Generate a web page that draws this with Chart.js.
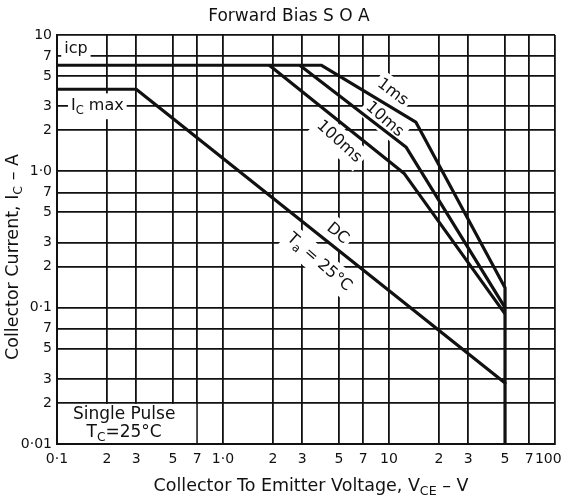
<!DOCTYPE html>
<html>
<head>
<meta charset="utf-8">
<script src="https://cdn.jsdelivr.net/npm/chart.js@4.4.1/dist/chart.umd.min.js"></script>
<style>
  html, body { margin: 0; padding: 0; background: #fff; }
  #wrap { width: 562px; height: 502px; }
</style>
</head>
<body>
<div id="wrap"><canvas id="soa" width="562" height="502"></canvas></div>
<script>
// =======================
// DATA
// =======================
const xTicks = [0.1, 0.2, 0.3, 0.5, 0.7, 1, 2, 3, 5, 7, 10, 20, 30, 50, 70, 100];
const xTickLabels = ["0·1", "2", "3", "5", "7", "1·0", "2", "3", "5", "7", "10", "2", "3", "5", "7", "100\u00a0\u00a0\u00a0"];
const yTicks = [0.01, 0.02, 0.03, 0.05, 0.07, 0.1, 0.2, 0.3, 0.5, 0.7, 1, 2, 3, 5, 7, 10];
const yTickLabels = ["0·01", "2", "3", "5", "7", "0·1", "2", "3", "5", "7", "1·0", "2", "3", "5", "7", "10"];

// collector-emitter voltage (V) / collector current (A)
const dcV    = [0.1, 0.3, 50, 50];
const dcI    = [4, 4, 0.028, 0.01];
const ms1V   = [0.1, 3.9, 14.5, 50, 50];
const ms1I   = [6, 6, 2.3, 0.14, 0.028];
const ms10V  = [2.9, 12.7, 50];
const ms10I  = [6, 1.5, 0.1];
const ms100V = [1.9, 12.3, 50];
const ms100I = [6, 0.97, 0.09];

const FONT = '"DejaVu Sans", sans-serif';
const INK = "#111";

function pts(xs, ys) {
    return xs.map((x, i) => ({ x: x, y: ys[i] }));
}

function lineSet(label, xs, ys) {
    return {
        label: label,
        data: pts(xs, ys),
        showLine: true,
        borderColor: INK,
        borderWidth: 3.2,
        pointRadius: 0,
        fill: false,
        tension: 0,
        borderJoinStyle: "round"
    };
}

// =======================
// RICH TEXT (subscripts)
// =======================
function measureRich(ctx, parts, size) {
    let w = 0;
    parts.forEach(p => {
        ctx.font = (p[1] ? size * 0.72 : size) + "px " + FONT;
        w += ctx.measureText(p[0]).width;
    });
    return w;
}

function drawRich(ctx, parts, cx, cy, size, rot, pad) {
    ctx.save();
    ctx.translate(cx, cy);
    ctx.rotate(rot * Math.PI / 180);
    const w = measureRich(ctx, parts, size);
    if (pad) {
        ctx.fillStyle = "#fff";
        ctx.fillRect(-w / 2 - pad, -size * 0.62 - pad, w + pad * 2, size * 1.24 + pad * 2);
    }
    ctx.fillStyle = INK;
    ctx.textBaseline = "middle";
    ctx.textAlign = "left";
    let x = -w / 2;
    parts.forEach(p => {
        ctx.font = (p[1] ? size * 0.72 : size) + "px " + FONT;
        ctx.fillText(p[0], x, p[1] ? size * 0.3 : 0);
        x += ctx.measureText(p[0]).width;
    });
    ctx.restore();
}

// =======================
// LABELS ON THE PLOT
// =======================
const notes = [
    { parts: [["icp"]], x: 0.13, y: 7.9, rot: 0 },
    { parts: [["I"], ["C", true], [" max"]], x: 0.175, y: 3, rot: 0 },
    { parts: [["1ms"]], x: 10.5, y: 3.8, rot: 37 },
    { parts: [["10ms"]], x: 9.4, y: 2.4, rot: 41 },
    { parts: [["100ms"]], x: 5, y: 1.65, rot: 42 },
    { parts: [["DC"]], x: 4.9, y: 0.35, rot: 40 },
    { parts: [["T"], ["a", true], [" = 25°C"]], x: 3.8, y: 0.215, rot: 41 }
];

const soaText = {
    id: "soaText",
    beforeDatasetsDraw(chart) {
        const ctx = chart.ctx;
        const sx = chart.scales.x;
        const sy = chart.scales.y;

        // single pulse box
        const bx0 = sx.getPixelForValue(0.1) + 1;
        const bx1 = sx.getPixelForValue(0.7) - 1;
        const by0 = sy.getPixelForValue(0.02) + 1;
        const by1 = sy.getPixelForValue(0.01) - 1;
        ctx.save();
        ctx.fillStyle = "#fff";
        ctx.fillRect(bx0, by0, bx1 - bx0, by1 - by0);
        ctx.restore();
        const bcx = (bx0 + bx1) / 2 - 3;
        const bcy = (by0 + by1) / 2;
        drawRich(ctx, [["Single Pulse"]], bcx, bcy - 9, 17, 0, 0);
        drawRich(ctx, [["T"], ["C", true], ["=25°C"]], bcx, bcy + 9, 17, 0, 0);

        notes.forEach(n => {
            drawRich(ctx, n.parts, sx.getPixelForValue(n.x), sy.getPixelForValue(n.y), 16, n.rot, 3);
        });
    },
    afterDraw(chart) {
        const ctx = chart.ctx;
        drawRich(ctx, [["Forward Bias S O A"]], 289, 17, 17, 0, 0);
        drawRich(ctx, [["Collector To Emitter Voltage, V"], ["CE", true], [" \u2013 V"]], 311, 486, 17.5, 0, 0);
        drawRich(ctx, [["Collector Current, I"], ["C", true], [" \u2013 A"]], 13, 257, 17.5, -90, 0);
    }
};

// =======================
// CHART
// =======================
const tickFont = { family: FONT, size: 14 };

new Chart(document.getElementById("soa"), {
    type: "scatter",
    data: {
        datasets: [
            lineSet("DC", dcV, dcI),
            lineSet("1ms", ms1V, ms1I),
            lineSet("10ms", ms10V, ms10I),
            lineSet("100ms", ms100V, ms100I)
        ]
    },
    options: {
        responsive: false,
        animation: false,
        layout: { padding: { top: 35, right: 7, bottom: 0, left: 0 } },
        plugins: {
            legend: { display: false },
            tooltip: { enabled: false }
        },
        scales: {
            x: {
                type: "logarithmic",
                min: 0.1,
                max: 100,
                afterBuildTicks: s => { s.ticks = xTicks.map(v => ({ value: v })); },
                afterFit: s => { s.height = 58; s.paddingLeft = 0; s.paddingRight = 0; },
                ticks: {
                    callback: (v, i) => xTickLabels[i],
                    autoSkip: false,
                    maxRotation: 0,
                    minRotation: 0,
                    padding: 7,
                    color: INK,
                    font: tickFont
                },
                grid: { color: INK, lineWidth: 1.8, drawTicks: false },
                border: { color: INK, width: 2 }
            },
            y: {
                type: "logarithmic",
                min: 0.01,
                max: 10,
                afterBuildTicks: s => { s.ticks = yTicks.map(v => ({ value: v })); },
                afterFit: s => { s.width = 57; },
                ticks: {
                    callback: (v, i) => yTickLabels[i],
                    autoSkip: false,
                    padding: 5,
                    color: INK,
                    font: tickFont
                },
                grid: { color: INK, lineWidth: 1.8, drawTicks: false },
                border: { color: INK, width: 2 }
            }
        }
    },
    plugins: [soaText]
});
</script>
</body>
</html>
